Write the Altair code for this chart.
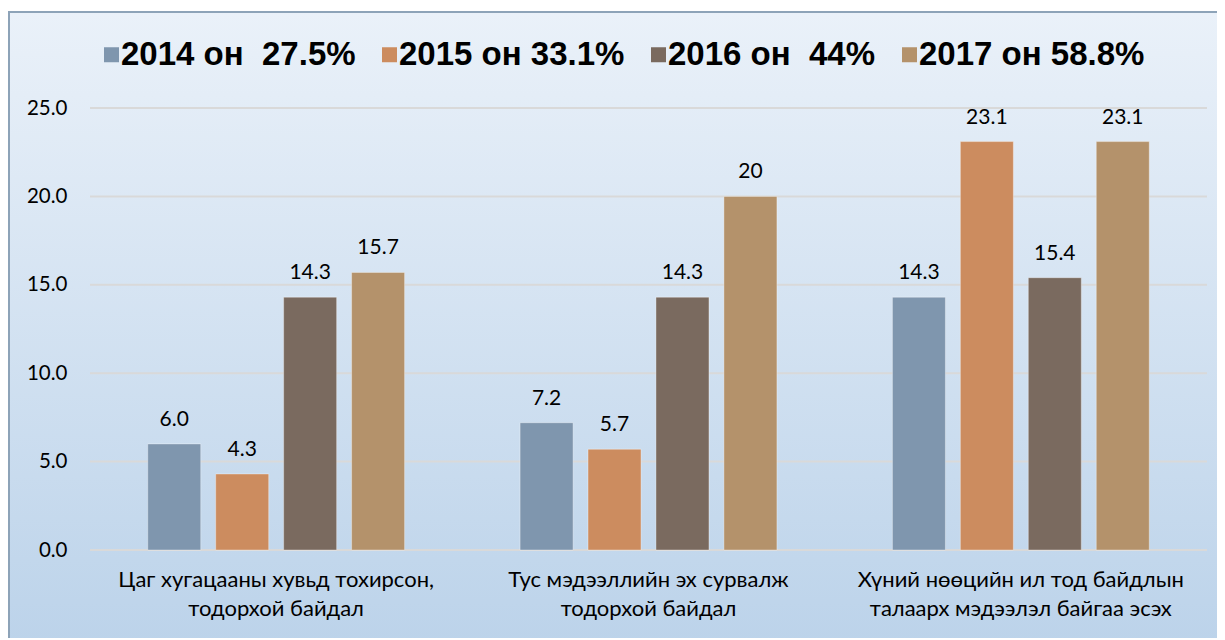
import altair as alt
import pandas as pd

categories = [
    "Цаг хугацааны хувьд тохирсон,\nтодорхой байдал",
    "Тус мэдээллийн эх сурвалж\nтодорхой байдал",
    "Хүний нөөцийн ил тод байдлын\nталаарх мэдээлэл байгаа эсэх",
]
series = ["2014 он\u00a0 27.5%", "2015 он 33.1%", "2016 он\u00a0 44%", "2017 он 58.8%"]
colors = ["#7f96ae", "#cc8c5f", "#7a6a5f", "#b4926b"]

v2014 = [6.0, 7.2, 14.3]
v2015 = [4.3, 5.7, 23.1]
v2016 = [14.3, 14.3, 15.4]
v2017 = [15.7, 20.0, 23.1]
labels2014 = ["6.0", "7.2", "14.3"]
labels2015 = ["4.3", "5.7", "23.1"]
labels2016 = ["14.3", "14.3", "15.4"]
labels2017 = ["15.7", "20", "23.1"]
grid_values = [0, 5, 10, 15, 20, 25]

rows = []
for s, vals, labs in zip(series, [v2014, v2015, v2016, v2017],
                         [labels2014, labels2015, labels2016, labels2017]):
    for c, v, l in zip(categories, vals, labs):
        rows.append({"category": c, "series": s, "value": v, "label": l})
df = pd.DataFrame(rows)
gdf = pd.DataFrame({"value": grid_values})

W, H = 1117, 442
PL, PT, PR, PB = 82, 100, 10, 88
FONT = "Lato"

bg = alt.Chart(pd.DataFrame([{"a": 1}])).mark_rect(
    fill=alt.LinearGradient(
        gradient="linear",
        stops=[alt.GradientStop(color="#eaf1f9", offset=0),
               alt.GradientStop(color="#bcd3ea", offset=1)],
        x1=0, x2=0, y1=0, y2=1,
    ),
    stroke="#8da3b8",
    strokeWidth=2,
).encode(
    x=alt.value(-PL + 1),
    x2=alt.value(W + PR + 5),
    y=alt.value(-PT + 4),
    y2=alt.value(H + PB + 5),
)

yscale = alt.Scale(domain=[0, 25], nice=False)
yaxis = alt.Axis(
    title=None,
    values=grid_values,
    format=".1f",
    labelFont=FONT,
    labelFontSize=20.5,
    labelColor="#000000",
    labelPadding=23,
    domain=False,
    ticks=False,
    grid=False,
    zindex=2,
)

grid = alt.Chart(gdf).mark_rule(color="#d9d9d9", strokeWidth=2).encode(
    y=alt.Y("value:Q", scale=yscale, axis=yaxis),
    x=alt.value(0),
    x2=alt.value(W),
)

x_enc = alt.X(
    "category:N",
    sort=categories,
    scale=alt.Scale(paddingInner=0.27, paddingOuter=0.135),
    axis=alt.Axis(
        title=None,
        labelAngle=0,
        labelExpr="split(datum.value, '\\n')",
        labelFont=FONT,
        labelFontSize=22,
        labelColor="#000000",
        labelLineHeight=29,
        labelPadding=19,
        labelBaseline="top",
        domain=False,
        ticks=False,
        grid=False,
        labelLimit=0,
        zindex=2,
    ),
)
xoff = alt.XOffset("series:N", sort=series,
                   scale=alt.Scale(paddingInner=0.22, paddingOuter=0.11))

bars = alt.Chart(df).mark_bar(stroke="#ffffff", strokeOpacity=0.35, strokeWidth=1).encode(
    x=x_enc,
    xOffset=xoff,
    y=alt.Y("value:Q", scale=yscale, axis=yaxis),
    color=alt.Color(
        "series:N",
        sort=series,
        scale=alt.Scale(domain=series, range=colors),
        legend=alt.Legend(
            title=None,
            orient="none",
            legendX=5,
            legendY=-70,
            direction="horizontal",
            symbolType="square",
            symbolSize=225,
            symbolStrokeWidth=0,
            labelFont="Liberation Sans",
            labelFontWeight="bold",
            labelFontSize=33,
            labelColor="#000000",
            labelOffset={"expr": "-7"},
            columnPadding=17,
            labelLimit=0,
            padding=0,
            zindex=2,
        ),
    ),
)

text = alt.Chart(df).mark_text(
    baseline="alphabetic", dy=-18, font=FONT, fontSize=21, color="#000000"
).encode(
    x=alt.X("category:N", sort=categories),
    xOffset=alt.XOffset("series:N", sort=series),
    y="value:Q",
    text="label:N",
)

chart = alt.layer(bg, grid, bars, text).properties(
    width=W,
    height=H,
    padding={"left": PL, "top": PT, "right": PR, "bottom": PB},
    autosize=alt.AutoSizeParams(type="none"),
).configure_view(stroke=None)

chart.save("out.html", embed_options={"renderer": "svg", "actions": False})
